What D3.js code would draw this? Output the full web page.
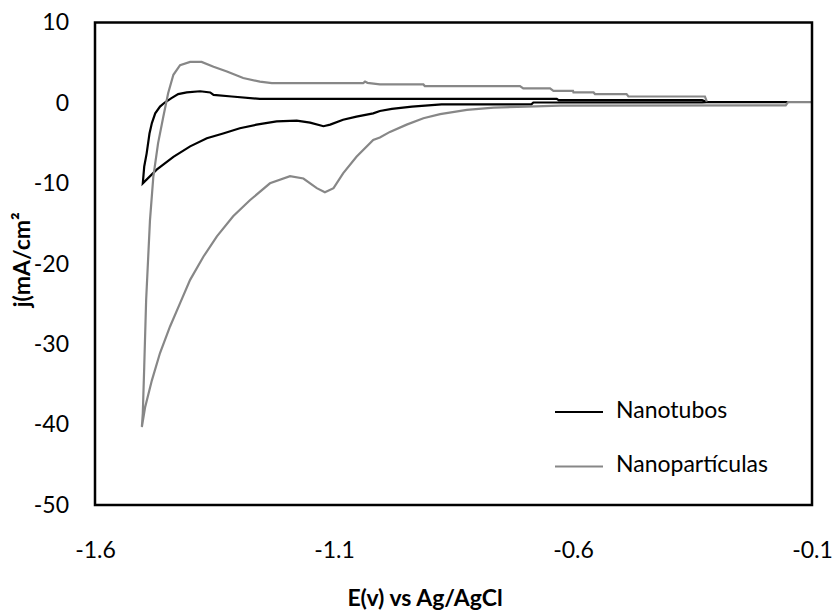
<!DOCTYPE html>
<html>
<head>
<meta charset="utf-8">
<script src="https://cdn.jsdelivr.net/npm/d3@7"></script>
<style>
  html, body { margin: 0; padding: 0; background: #fff; }
  svg { display: block; }
  text { font-family: Lato, "Open Sans", sans-serif; fill: #000; }
</style>
</head>
<body>
<svg id="chart" width="834" height="616"></svg>
<script>
// ---- Data ----
const seriesNames = ["Nanotubos", "Nanopartículas"];
const xTicks = [-1.6, -1.1, -0.6, -0.1];
const xTickLabels = ["-1.6", "-1.1", "-0.6", "-0.1"];
const yTicks = [10, 0, -10, -20, -30, -40, -50];
const yTickLabels = ["10", "0", "-10", "-20", "-30", "-40", "-50"];
const xTitle = "E(v) vs Ag/AgCl";
const yTitle = "j(mA/cm²";

// Nanotubos: cathodic scan (right -> vertex) then return scan
const nanotubosE = [-0.15, -0.32, -0.33, -0.683, -0.687, -0.875, -0.937, -0.979, -1.004, -1.018, -1.053, -1.081, -1.108, -1.122, -1.150, -1.178, -1.220, -1.262, -1.297, -1.332, -1.366, -1.401, -1.436, -1.471, -1.500,
  -1.497, -1.492, -1.486, -1.481, -1.474, -1.464, -1.454, -1.440, -1.426, -1.408, -1.380, -1.359, -1.352, -1.314, -1.255, -0.634, -0.630, -0.330, -0.320, -0.15];
const nanotubosJ = [0.1, 0.1, 0.05, 0.05, -0.17, -0.17, -0.46, -0.75, -1.0, -1.3, -1.7, -2.1, -2.7, -2.9, -2.45, -2.2, -2.3, -2.7, -3.15, -3.8, -4.4, -5.4, -6.7, -8.3, -10.0,
  -7.9, -6.3, -3.8, -2.5, -1.3, -0.45, 0.05, 0.6, 1.1, 1.3, 1.45, 1.3, 1.0, 0.8, 0.5, 0.5, 0.35, 0.35, 0.1, 0.1];

const nanoparticulasE = [-0.10, -0.15, -0.155, -0.627, -0.697, -0.766, -0.822, -0.878, -0.913, -0.948, -0.983, -1.004, -1.018, -1.053, -1.081, -1.101, -1.119, -1.136, -1.164, -1.192, -1.234, -1.276, -1.311, -1.345, -1.373, -1.401, -1.422, -1.443, -1.464, -1.481, -1.495, -1.502,
  -1.500, -1.497, -1.493, -1.488, -1.485, -1.478, -1.468, -1.457, -1.447, -1.436, -1.422, -1.401, -1.377, -1.352, -1.324, -1.290, -1.255, -1.230, -1.039, -1.035, -1.030, -1.004, -0.913, -0.910, -0.711, -0.704, -0.648, -0.641, -0.600, -0.599, -0.557, -0.554, -0.488, -0.484, -0.324, -0.320];
const nanoparticulasJ = [0.1, 0.1, -0.3, -0.33, -0.46, -0.58, -0.87, -1.4, -1.9, -2.7, -3.6, -4.3, -4.6, -6.7, -8.75, -10.6, -11.1, -10.6, -9.4, -9.1, -10.0, -12.1, -14.1, -16.6, -19.1, -22.0, -24.9, -27.8, -31.1, -34.5, -37.8, -40.3,
  -38.6, -32.8, -24.5, -18.3, -14.6, -9.2, -5.0, -1.7, 1.2, 3.5, 4.7, 5.1, 5.1, 4.5, 3.9, 3.1, 2.65, 2.45, 2.45, 2.65, 2.5, 2.3, 2.3, 2.1, 2.1, 1.8, 1.8, 1.5, 1.5, 1.3, 1.3, 1.1, 1.1, 0.8, 0.8, 0.15];

const seriesColors = ["#000000", "#878787"];

// ---- Layout ----
const svg = d3.select("#chart");
const plot = { left: 95, right: 812, top: 22.5, bottom: 505 };
const FS = 23;

const x = d3.scaleLinear().domain([-1.6, -0.1]).range([plot.left, plot.right]);
const y = d3.scaleLinear().domain([-50, 10]).range([plot.bottom, plot.top]);

const series = [
  { name: seriesNames[0], color: seriesColors[0], pts: nanotubosE.map((e, i) => [e, nanotubosJ[i]]) },
  { name: seriesNames[1], color: seriesColors[1], pts: nanoparticulasE.map((e, i) => [e, nanoparticulasJ[i]]) }
];

const line = d3.line().x(d => x(d[0])).y(d => y(d[1]));

const g = svg.append("g");
series.forEach(s => {
  g.append("path")
    .attr("d", line(s.pts))
    .attr("fill", "none")
    .attr("stroke", s.color)
    .attr("stroke-width", 2.2)
    .attr("stroke-linejoin", "miter");
});

// frame
svg.append("rect")
  .attr("x", plot.left).attr("y", plot.top)
  .attr("width", plot.right - plot.left).attr("height", plot.bottom - plot.top)
  .attr("fill", "none").attr("stroke", "#000").attr("stroke-width", 2.5);

// axes (labels only, no tick marks)
const xAxis = d3.axisBottom(x).tickValues(xTicks).tickSize(0).tickPadding(0)
  .tickFormat((d, i) => xTickLabels[i]);
const xg = svg.append("g").attr("transform", `translate(0,${plot.bottom + 45})`).call(xAxis);
xg.select(".domain").remove();
xg.selectAll("text").attr("font-family", "Lato").attr("font-size", FS).attr("fill", "#000").attr("dy", "0.35em").attr("y", 0);

const yAxis = d3.axisLeft(y).tickValues(yTicks).tickSize(0).tickPadding(0)
  .tickFormat((d, i) => yTickLabels[i]);
const yg = svg.append("g").attr("transform", `translate(${plot.left - 26},0)`).call(yAxis);
yg.select(".domain").remove();
yg.selectAll("text").attr("font-family", "Lato").attr("font-size", FS).attr("fill", "#000");

// axis titles
svg.append("text")
  .attr("x", 425).attr("y", 600)
  .attr("text-anchor", "middle").attr("dominant-baseline", "middle")
  .attr("font-size", FS).attr("font-weight", "bold")
  .text(xTitle);

svg.append("text")
  .attr("transform", `translate(24,${(plot.top + plot.bottom) / 2 - 4}) rotate(-90)`)
  .attr("text-anchor", "middle").attr("dominant-baseline", "middle")
  .attr("font-size", FS).attr("font-weight", "bold")
  .text(yTitle);

// legend
const legend = svg.append("g");
const legY = [412, 466.5];
series.forEach((s, i) => {
  legend.append("line")
    .attr("x1", 555).attr("x2", 603)
    .attr("y1", legY[i]).attr("y2", legY[i])
    .attr("stroke", s.color).attr("stroke-width", 2.2);
  legend.append("text")
    .attr("x", 616).attr("y", legY[i])
    .attr("dominant-baseline", "middle")
    .attr("font-size", FS)
    .text(s.name);
});
</script>
</body>
</html>
